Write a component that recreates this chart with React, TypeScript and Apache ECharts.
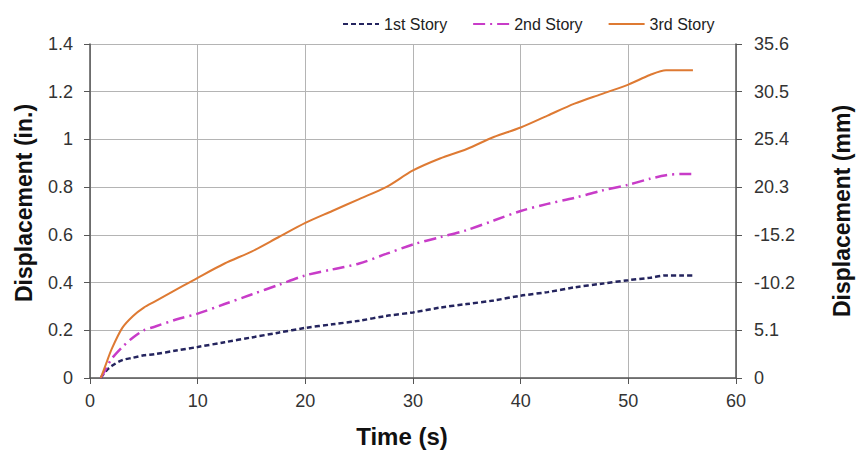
import React, { useEffect, useRef } from "react";
import * as echarts from "echarts";

const TIME = [1, 1.5, 2, 3, 4, 5, 6, 8, 10, 12.5, 15, 17.5, 20, 22.5, 25, 27.5, 30, 32.5, 35, 37.5, 40, 42.5, 45, 47.5, 50, 52, 53.5, 55, 56];
const STORY1 = [0, 0.03, 0.05, 0.075, 0.085, 0.095, 0.1, 0.115, 0.13, 0.15, 0.17, 0.19, 0.21, 0.225, 0.24, 0.26, 0.275, 0.295, 0.31, 0.325, 0.345, 0.36, 0.38, 0.395, 0.41, 0.42, 0.43, 0.43, 0.43];
const STORY2 = [0, 0.04, 0.08, 0.13, 0.17, 0.2, 0.215, 0.245, 0.27, 0.31, 0.35, 0.39, 0.43, 0.455, 0.48, 0.52, 0.56, 0.59, 0.62, 0.66, 0.7, 0.73, 0.755, 0.785, 0.81, 0.835, 0.85, 0.855, 0.855];
const STORY3 = [0, 0.06, 0.12, 0.21, 0.26, 0.295, 0.32, 0.37, 0.42, 0.48, 0.53, 0.59, 0.65, 0.7, 0.75, 0.8, 0.87, 0.92, 0.96, 1.01, 1.05, 1.1, 1.15, 1.19, 1.23, 1.27, 1.29, 1.29, 1.29];
const SERIES_NAMES = ["1st Story", "2nd Story", "3rd Story"];
const LEFT_LABELS = ["0", "0.2", "0.4", "0.6", "0.8", "1", "1.2", "1.4"];
const RIGHT_LABELS = ["0", "5.1", "-10.2", "-15.2", "20.3", "25.4", "30.5", "35.6"];

const FONT = "Liberation Sans, Arial, sans-serif";

export default function App() {
  const ref = useRef<HTMLDivElement>(null);
  useEffect(() => {
    document.body.style.margin = "0";
    if (!ref.current) return;
    const chart = echarts.init(ref.current, null, { renderer: "svg" });
    const pairs = (vals: number[]) => TIME.map((t, i) => [t, vals[i]]);
    const labelStyle = { color: "#333", fontSize: 18, fontFamily: FONT };
    const yNameStyle = { color: "#111", fontSize: 23, fontWeight: "bold" as const, fontFamily: FONT };
    chart.setOption({
      animation: false,
      backgroundColor: "#fff",
      textStyle: { fontFamily: FONT },
      legend: {
        top: 11,
        left: 337,
        itemWidth: 36,
        itemHeight: 14,
        itemGap: 25,
        itemStyle: { opacity: 0 },
        textStyle: { color: "#222", fontSize: 16, fontFamily: FONT },
        data: SERIES_NAMES,
      },
      grid: { left: 90, right: 119, top: 44, bottom: 76 },
      xAxis: {
        type: "value",
        min: 0,
        max: 60,
        interval: 10,
        name: "Time (s)",
        nameLocation: "middle",
        nameGap: 46,
        nameTextStyle: {
          color: "#111",
          fontSize: 24,
          fontWeight: "bold",
          fontFamily: FONT,
          padding: [0, 22, 0, 0],
        },
        axisLine: { show: true, lineStyle: { color: "#555", width: 1.5 } },
        axisTick: { show: true, length: 6, lineStyle: { color: "#555" } },
        axisLabel: { ...labelStyle, margin: 14 },
        splitLine: { show: true, lineStyle: { color: "#b4b4b4", width: 1 } },
      },
      yAxis: [
        {
          type: "value",
          min: 0,
          max: 1.4,
          interval: 0.2,
          name: "Displacement (in.)",
          nameLocation: "middle",
          nameGap: 55,
          nameTextStyle: { ...yNameStyle, padding: [0, 0, 0, 16] },
          axisLine: { show: true, lineStyle: { color: "#555", width: 1.5 } },
          axisTick: { show: true, length: 6, lineStyle: { color: "#555" } },
          axisLabel: {
            ...labelStyle,
            margin: 17,
            formatter: (v: number) => LEFT_LABELS[Math.round(v / 0.2)] ?? "",
          },
          splitLine: { show: true, lineStyle: { color: "#b4b4b4", width: 1 } },
        },
        {
          type: "value",
          position: "right",
          min: 0,
          max: 1.4,
          interval: 0.2,
          name: "Displacement (mm)",
          nameLocation: "middle",
          nameGap: 94,
          nameTextStyle: yNameStyle,
          axisLine: { show: true, lineStyle: { color: "#555", width: 1.5 } },
          axisTick: { show: true, length: 6, lineStyle: { color: "#555" } },
          axisLabel: {
            ...labelStyle,
            margin: 18,
            formatter: (v: number) => RIGHT_LABELS[Math.round(v / 0.2)] ?? "",
          },
          splitLine: { show: false },
        },
      ],
      series: [
        {
          name: SERIES_NAMES[0],
          type: "line",
          data: pairs(STORY1),
          symbol: "none",
          smooth: 0.3,
          lineStyle: { color: "#24245e", width: 2.5, type: [5, 3] },
          itemStyle: { color: "#24245e" },
        },
        {
          name: SERIES_NAMES[1],
          type: "line",
          data: pairs(STORY2),
          symbol: "none",
          smooth: 0.3,
          lineStyle: { color: "#c83cc8", width: 2.5, type: [12, 5, 2, 5] },
          itemStyle: { color: "#c83cc8" },
        },
        {
          name: SERIES_NAMES[2],
          type: "line",
          data: pairs(STORY3),
          symbol: "none",
          smooth: 0.3,
          lineStyle: { color: "#de7a33", width: 2 },
          itemStyle: { color: "#de7a33" },
        },
      ],
    });
    return () => chart.dispose();
  }, []);
  return <div ref={ref} style={{ width: 861, height: 454 }} />;
}
